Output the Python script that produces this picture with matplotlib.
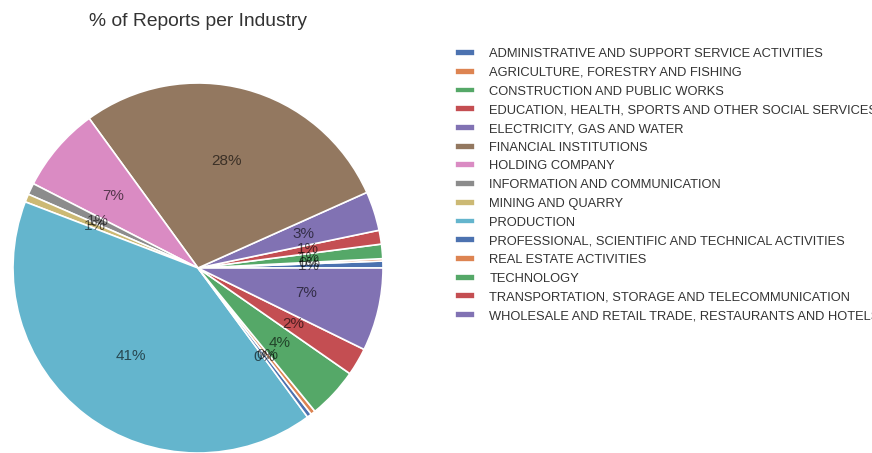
import matplotlib
matplotlib.use("Agg")
import matplotlib.pyplot as plt
import seaborn as sns

sns.set_style("white")
plt.rcParams['font.family'] = ['Liberation Sans', 'DejaVu Sans']

industries = [
    "ADMINISTRATIVE AND SUPPORT SERVICE ACTIVITIES",
    "AGRICULTURE, FORESTRY AND FISHING",
    "CONSTRUCTION AND PUBLIC WORKS",
    "EDUCATION, HEALTH, SPORTS AND OTHER SOCIAL SERVICES",
    "ELECTRICITY, GAS AND WATER",
    "FINANCIAL INSTITUTIONS",
    "HOLDING COMPANY",
    "INFORMATION AND COMMUNICATION",
    "MINING AND QUARRY",
    "PRODUCTION",
    "PROFESSIONAL, SCIENTIFIC AND TECHNICAL ACTIVITIES",
    "REAL ESTATE ACTIVITIES",
    "TECHNOLOGY",
    "TRANSPORTATION, STORAGE AND TELECOMMUNICATION",
    "WHOLESALE AND RETAIL TRADE, RESTAURANTS AND HOTELS",
]
share = [0.6, 0.2, 1.25, 1.2, 3.4, 28.1, 7.4, 1.0, 0.7, 40.6,
         0.4, 0.4, 4.4, 2.4, 7.2]

colors = sns.color_palette("deep", 10)
colors = [colors[i % 10] for i in range(len(share))]

fig = plt.figure(figsize=(8.72, 4.53), dpi=100)
ax = fig.add_axes([13 / 872, 0.0, 370 / 872, 370 / 453])

wedges, texts, autotexts = ax.pie(
    share, colors=colors, startangle=0, autopct='%1.0f%%',
    wedgeprops=dict(edgecolor='white', linewidth=1.2),
    textprops=dict(fontsize=11, color='black', alpha=0.6),
)
ax.set_xlim(-1, 1)
ax.set_ylim(-1, 1)
ax.set_aspect('equal')

fig.text(198 / 872, 1 - 22 / 453, "% of Reports per Industry",
         ha='center', va='center', fontsize=13.9, color='#333333')

fig.legend(wedges, industries, loc='upper left',
           bbox_to_anchor=(450 / 872, 1 - 43 / 453), borderaxespad=0,
           frameon=False, fontsize=9.3, labelspacing=0.52,
           handlelength=1.55, handleheight=0.45, handletextpad=1.1,
           labelcolor='#333333')

fig.savefig("out.png", dpi=100)
